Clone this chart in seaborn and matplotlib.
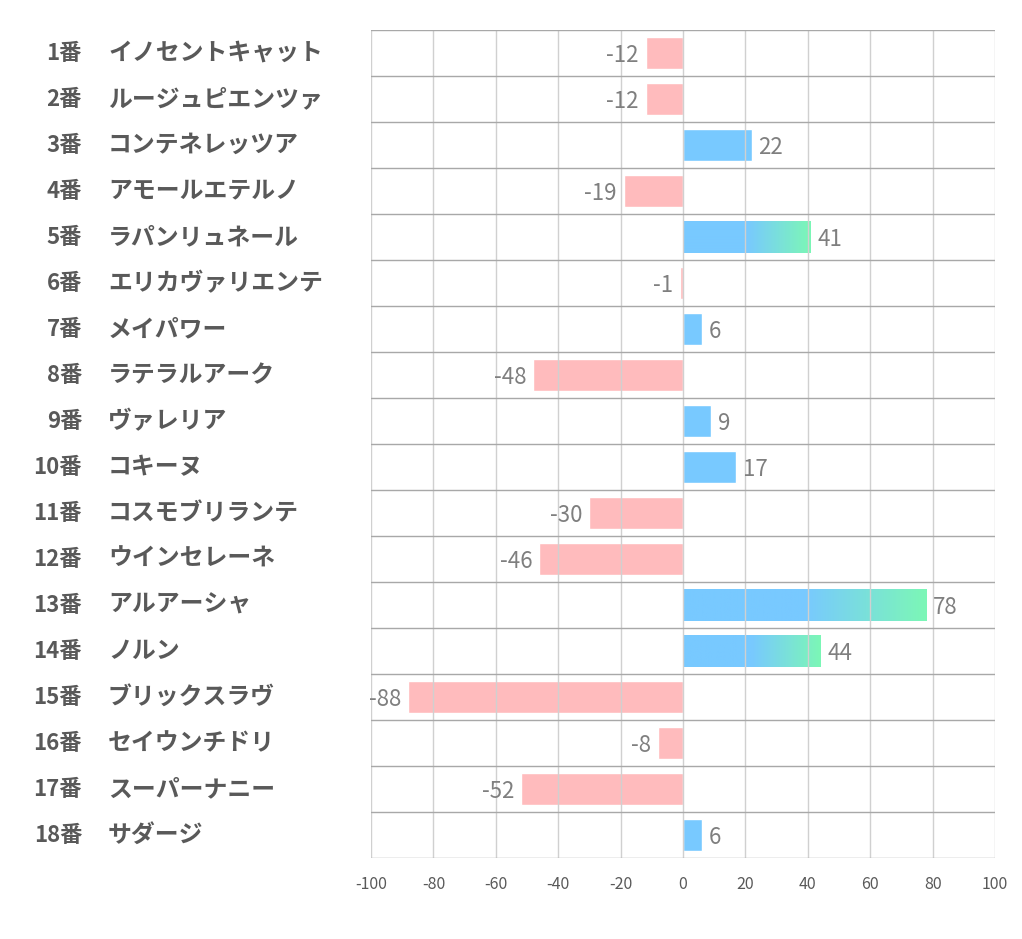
import numpy as np
import pandas as pd
import matplotlib
matplotlib.use("Agg")
import matplotlib.pyplot as plt
import seaborn as sns
from matplotlib.colors import LinearSegmentedColormap

numbers = ["1番", "2番", "3番", "4番", "5番", "6番", "7番", "8番", "9番", "10番",
           "11番", "12番", "13番", "14番", "15番", "16番", "17番", "18番"]
names = ["イノセントキャット", "ルージュピエンツァ", "コンテネレッツア", "アモールエテルノ",
         "ラパンリュネール", "エリカヴァリエンテ", "メイパワー", "ラテラルアーク",
         "ヴァレリア", "コキーヌ", "コスモブリランテ", "ウインセレーネ", "アルアーシャ",
         "ノルン", "ブリックスラヴ", "セイウンチドリ", "スーパーナニー", "サダージ"]
values = [-12, -12, 22, -19, 41, -1, 6, -48, 9, 17, -30, -46, 78, 44, -88, -8, -52, 6]
xticks = [-100, -80, -60, -40, -20, 0, 20, 40, 60, 80, 100]

sns.set_theme(style="white")
plt.rcParams['font.family'] = ['Noto Sans CJK JP', 'DejaVu Sans']

BLUE = "#78C9FF"
GREEN = "#7CF7B6"
PINK = "#FFBBBD"

df = pd.DataFrame({"key": [f"{n} {m}" for n, m in zip(numbers, names)],
                   "value": values,
                   "sign": ["pos" if v >= 0 else "neg" for v in values]})

fig = plt.figure(figsize=(10.22, 9.39), dpi=100)
ax = fig.add_axes([371/1022, 1-858/939, 624/1022, 828/939])

sns.barplot(data=df, y="key", x="value", hue="sign", orient="h",
            palette={"pos": BLUE, "neg": PINK}, dodge=False, width=0.68,
            legend=False, ax=ax, saturation=1)

ax.set_xlim(-100, 100)
ax.set_ylim(len(values) - 0.5, -0.5)
ax.set_xticks(xticks)
ax.set_xticklabels([str(t) for t in xticks], fontsize=11.5, color="#595959")
ax.tick_params(axis="x", length=0, pad=13)
ax.set_yticks([])
ax.set_xlabel("")
ax.set_ylabel("")

for t in xticks:
    ax.axvline(t, color="#D0D0D0", lw=1, zorder=3)
for i in range(len(values) + 1):
    ax.axhline(i - 0.5, color="#A8A8A8", lw=1, zorder=3)
for s in ax.spines.values():
    s.set_visible(False)

cmap = LinearSegmentedColormap.from_list("bg", [BLUE, BLUE, GREEN])
grad = np.linspace(0, 1, 256).reshape(1, -1)
for p in ax.patches:
    w = p.get_width()
    if w >= 40:
        x0 = p.get_x()
        y0 = p.get_y()
        h = p.get_height()
        im = ax.imshow(grad, cmap=cmap, aspect="auto",
                       extent=[x0, x0 + w, y0 + h, y0], zorder=p.get_zorder() + 0.1)
        im.set_clip_path(p)
        p.set_facecolor("none")
ax.set_xlim(-100, 100)
ax.set_ylim(len(values) - 0.5, -0.5)

for i, v in enumerate(values):
    if v >= 0:
        ax.text(v + 2.2, i + 0.05, str(v), va="center", ha="left", fontsize=16, color="#7F7F7F", zorder=5)
    else:
        ax.text(v - 2.2, i + 0.05, str(v), va="center", ha="right", fontsize=16, color="#7F7F7F", zorder=5)

trans = matplotlib.transforms.blended_transform_factory(fig.transFigure, ax.transData)
for i, (n, m) in enumerate(zip(numbers, names)):
    ax.text(82/1022, i, n, transform=trans, ha="right", va="center",
            fontsize=16, fontweight="bold", color="#595959")
    ax.text(108/1022, i, m, transform=trans, ha="left", va="center",
            fontsize=17.2, fontweight="bold", color="#595959")

fig.savefig("out.png", dpi=100, facecolor="white")
